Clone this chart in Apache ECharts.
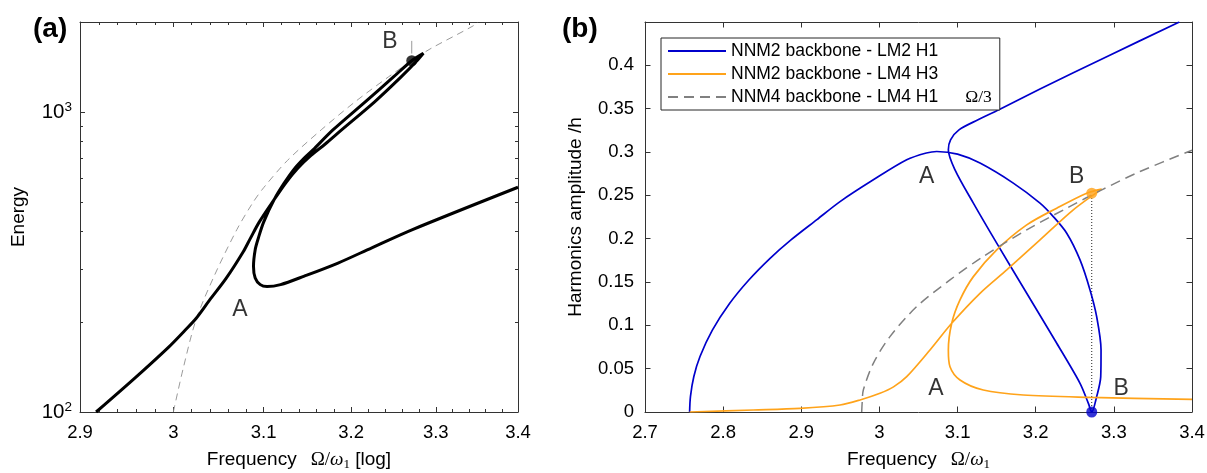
<!DOCTYPE html>
<html>
<head>
<meta charset="utf-8">
<script src="https://cdn.jsdelivr.net/npm/echarts@6/dist/echarts.min.js"></script>
<style>
  html, body { margin: 0; padding: 0; background: #fff; }
  #chart { width: 1207px; height: 473px; }
</style>
</head>
<body>
<div id="chart"></div>
<script>
// ---- panel (a): energy vs frequency, both axes log ----
const aFreqTicks = [2.9, 3, 3.1, 3.2, 3.3, 3.4]
const aFreqMinor = [2.92, 2.94, 2.96, 2.98, 3.02, 3.04, 3.06, 3.08, 3.12, 3.14, 3.16, 3.18,
                    3.22, 3.24, 3.26, 3.28, 3.32, 3.34, 3.36, 3.38]
const aEnergyTicks = [100, 1000]
const aEnergyMinor = [200, 300, 400, 500, 600, 700, 800, 900]

// forced response, one path: rise -> crossing -> lower line up to the fold near B ->
// upper line back down -> crossing -> turning loop -> branch to the right
const aCurveFreq = [2.917, 2.9586, 2.9952, 3.0118, 3.0248, 3.0397, 3.0584, 3.0773, 3.0848, 3.095,
                    3.112, 3.1253, 3.1389, 3.1538, 3.1698, 3.189, 3.2275, 3.259, 3.2775, 3.2851,
                    3.2713, 3.25, 3.2165, 3.179, 3.1561, 3.1458, 3.1343, 3.123, 3.112,
                    3.100, 3.094, 3.0905, 3.0886, 3.0905, 3.0962, 3.1038,
                    3.1191, 3.1461, 3.1849, 3.2242, 3.2722, 3.4]
const aCurveEnergy = [100, 130, 165, 186, 205, 236, 280, 343, 378, 430,
                      512, 583, 652, 718, 782, 873, 1083, 1314, 1485, 1572,
                      1485, 1314, 1083, 873, 749, 702, 645, 579, 512,
                      430, 380, 348, 306, 280, 266, 262,
                      266, 284, 314, 353, 406, 562]
// backbone (dashed)
const aBackboneFreq = [3.0, 3.0108, 3.0248, 3.045, 3.07, 3.088, 3.1, 3.1268, 3.1654, 3.2046,
                       3.2441, 3.2713, 3.293, 3.3449, 3.351]
const aBackboneEnergy = [100, 140, 203, 285, 406, 500, 560, 690, 873, 1083,
                         1314, 1485, 1625, 1940, 2000]
const aPointB = [3.2713, 1485]
const aPointerFreq = [3.2713, 3.2713]
const aPointerEnergy = [1570, 1730]
const aLabels = [[3.0734, 219, 'A'], [3.2456, 1714, 'B']]

// ---- panel (b): harmonic amplitudes ----
const bFreqMin = 2.7, bFreqMax = 3.4, bFreqStep = 0.1
const bAmpMin = 0, bAmpMax = 0.45, bAmpStep = 0.05

const bBlueFreq = [2.7571, 2.7582, 2.7625, 2.7704, 2.7862, 2.8082, 2.8326, 2.8604, 2.8868, 2.92,
                   2.9496, 2.9922, 3.0349, 3.06, 3.0733, 3.1, 3.1287, 3.1713, 3.2055, 3.2225,
                   3.2397, 3.2567, 3.2695, 3.278, 3.2836, 3.2832, 3.278, 3.2717, 3.2674, 3.2567,
                   3.2269, 3.1885, 3.1501, 3.1202, 3.0967, 3.0882, 3.091, 3.1018, 3.1262, 3.1535,
                   3.2055, 3.2908, 3.3838]
const bBlueAmp = [0, 0.018, 0.041, 0.064, 0.0944, 0.1251, 0.152, 0.1776, 0.1986, 0.222,
                  0.2428, 0.2679, 0.291, 0.2988, 0.3006, 0.2975, 0.2872, 0.2641, 0.241, 0.2255,
                  0.2063, 0.1755, 0.1409, 0.11, 0.0716, 0.0408, 0.0177, 0, 0.01, 0.0331,
                  0.0793, 0.137, 0.1948, 0.241, 0.2794, 0.3025, 0.3141, 0.3256, 0.3372, 0.349,
                  0.3726, 0.41, 0.45]
const bOrangeFreq = [2.7571, 2.8387, 2.8985, 2.9496, 2.9752, 3.0007, 3.018, 3.0349, 3.0647, 3.0925,
                     3.1287, 3.1629, 3.2055, 3.2481, 3.2844, 3.2652, 3.2269, 3.1885, 3.1501, 3.1202,
                     3.1031, 3.0925, 3.0882, 3.0903, 3.1031, 3.1329, 3.1841, 3.2695, 3.4]
const bOrangeAmp = [0, 0.0023, 0.0042, 0.0081, 0.0139, 0.0216, 0.029, 0.0408, 0.0716, 0.1024,
                    0.137, 0.164, 0.1986, 0.2333, 0.2572, 0.2525, 0.2352, 0.2159, 0.1871, 0.1562,
                    0.1293, 0.1024, 0.0716, 0.0523, 0.037, 0.0254, 0.0196, 0.0169, 0.0145]
const bGreyFreq = [2.9773, 2.978, 2.9794, 2.9922, 3.0135, 3.0477, 3.0903, 3.1329, 3.1885, 3.2397,
                   3.2865, 3.3335, 3.4]
const bGreyAmp = [0, 0.012, 0.0254, 0.0562, 0.087, 0.1216, 0.1524, 0.1794, 0.2102, 0.2352,
                  0.2572, 0.2775, 0.302]
const bPointB = [[3.2717, 0.2525]]
const bPointBase = [[3.2717, 0]]
const bDottedFreq = [3.2717, 3.2717]
const bDottedAmp = [0, 0.2525]
const bLabels = [[3.0605, 0.2717, 'A'], [3.2525, 0.2717, 'B'], [3.0724, 0.0274, 'A'], [3.3092, 0.0274, 'B']]

const nameBlue = 'NNM2 backbone - LM2 H1'
const nameOrange = 'NNM2 backbone - LM4 H3'
const nameGrey = 'NNM4 backbone - LM4 H1'

const FONT = "'Liberation Sans', Arial, Helvetica, sans-serif"
const SERIF = "'Liberation Serif', 'Times New Roman', serif"
const AXIS = '#333'
const lnF = v => Math.log(v)
const lgE = v => Math.log10(v)
const zip = (xs, ys, fx, fy) => xs.map((x, i) => [fx ? fx(x) : x, fy ? fy(ys[i]) : ys[i]])

const freqName = extra => '{t|Frequency}{sp|}{g|Ω/}{w|ω}{sub|1}' + extra
const nameRich = {
  t: { fontFamily: FONT, fontSize: 19, color: '#000', lineHeight: 22 },
  sp: { width: 14 },
  g: { fontFamily: SERIF, fontSize: 19, color: '#000', lineHeight: 22 },
  w: { fontFamily: SERIF, fontStyle: 'italic', fontSize: 19, color: '#000', lineHeight: 22 },
  sub: { fontFamily: SERIF, fontSize: 13, color: '#000', lineHeight: 4, verticalAlign: 'bottom' }
}
const tickLabel = { fontSize: 18.5, color: '#000', fontFamily: FONT }

function aXAxis(pos, ticks, len, withLine, withLabels) {
  return {
    gridIndex: 0, type: 'value', position: pos, min: lnF(2.9), max: lnF(3.4),
    axisLine: { show: withLine, onZero: false, lineStyle: { color: AXIS } },
    axisTick: { inside: true, length: len, customValues: ticks.map(lnF), lineStyle: { color: AXIS } },
    axisLabel: withLabels
      ? Object.assign({ customValues: aFreqTicks.map(lnF), margin: 11,
          formatter: v => String(Math.round(Math.exp(v) * 10) / 10) }, tickLabel)
      : { show: false },
    splitLine: { show: false }
  }
}
function aYAxis(pos, ticks, len, withLine, withLabels) {
  return {
    gridIndex: 0, type: 'value', position: pos, min: lgE(100), max: lgE(2000),
    axisLine: { show: withLine, onZero: false, lineStyle: { color: AXIS } },
    axisTick: { inside: true, length: len, customValues: ticks.map(lgE), lineStyle: { color: AXIS } },
    axisLabel: withLabels
      ? { customValues: aEnergyTicks.map(lgE), margin: 8,
          formatter: v => '{b|10}{s|' + Math.round(v) + '}',
          rich: {
            b: { fontSize: 20.5, fontFamily: FONT, color: '#000', lineHeight: 24 },
            s: { fontSize: 13.5, fontFamily: FONT, color: '#000', lineHeight: 7, verticalAlign: 'top' }
          } }
      : { show: false },
    splitLine: { show: false }
  }
}

const xAxes = [
  Object.assign(aXAxis('bottom', aFreqTicks, 5, true, true), {
    name: freqName('{t| [log]}'), nameLocation: 'middle', nameGap: 37,
    nameTextStyle: { rich: nameRich }
  }),
  aXAxis('bottom', aFreqMinor, 3, false, false),
  aXAxis('top', aFreqTicks, 5, true, false),
  aXAxis('top', aFreqMinor, 3, false, false),
  {
    gridIndex: 1, type: 'value', position: 'bottom', min: bFreqMin, max: bFreqMax, interval: bFreqStep,
    axisLine: { show: true, onZero: false, lineStyle: { color: AXIS } },
    axisTick: { inside: true, length: 5.5, lineStyle: { color: AXIS } },
    axisLabel: Object.assign({ margin: 11, formatter: v => String(+v.toFixed(1)) }, tickLabel),
    splitLine: { show: false },
    name: freqName(''), nameLocation: 'middle', nameGap: 37,
    nameTextStyle: { rich: nameRich }
  },
  {
    gridIndex: 1, type: 'value', position: 'top', min: bFreqMin, max: bFreqMax, interval: bFreqStep,
    axisLine: { show: true, onZero: false, lineStyle: { color: AXIS } },
    axisTick: { inside: true, length: 5.5, lineStyle: { color: AXIS } },
    axisLabel: { show: false }, splitLine: { show: false }
  }
]
const yAxes = [
  Object.assign(aYAxis('left', aEnergyTicks, 5, true, true), {
    name: 'Energy', nameLocation: 'middle', nameGap: 52,
    nameTextStyle: { fontSize: 19, fontFamily: FONT, color: '#000' }
  }),
  aYAxis('left', aEnergyMinor, 3, false, false),
  aYAxis('right', aEnergyTicks, 5, true, false),
  aYAxis('right', aEnergyMinor, 3, false, false),
  {
    gridIndex: 1, type: 'value', position: 'left', min: bAmpMin, max: bAmpMax, interval: bAmpStep,
    axisLine: { show: true, onZero: false, lineStyle: { color: AXIS } },
    axisTick: { inside: true, length: 5.5, lineStyle: { color: AXIS } },
    axisLabel: Object.assign({ margin: 11, formatter: v => (v > 0.42 ? '' : String(+v.toFixed(2))) }, tickLabel),
    splitLine: { show: false },
    name: 'Harmonics amplitude /h', nameLocation: 'middle', nameGap: 60,
    nameTextStyle: { fontSize: 19, fontFamily: FONT, color: '#000' }
  },
  {
    gridIndex: 1, type: 'value', position: 'right', min: bAmpMin, max: bAmpMax, interval: bAmpStep,
    axisLine: { show: true, onZero: false, lineStyle: { color: AXIS } },
    axisTick: { inside: true, length: 5.5, lineStyle: { color: AXIS } },
    axisLabel: { show: false }, splitLine: { show: false }
  }
]

function labelSeries(xi, yi, items, fx, fy) {
  return {
    type: 'scatter', xAxisIndex: xi, yAxisIndex: yi, silent: true, symbolSize: 1,
    itemStyle: { color: 'rgba(0,0,0,0)' },
    data: items.map(d => [fx ? fx(d[0]) : d[0], fy ? fy(d[1]) : d[1], d[2]]),
    label: { show: true, position: 'inside', formatter: p => p.value[2],
             fontSize: 23, fontFamily: FONT, color: '#000' },
    z: 10
  }
}

const option = {
  animation: false,
  backgroundColor: '#fff',
  title: [
    { text: '(a)', left: 28, top: 10, textStyle: { fontSize: 28, fontWeight: 'bold', fontFamily: FONT, color: '#000' } },
    { text: '(b)', left: 557, top: 10, textStyle: { fontSize: 28, fontWeight: 'bold', fontFamily: FONT, color: '#000' } }
  ],
  grid: [
    { left: 80, top: 22, width: 438, height: 390, outerBoundsMode: 'none' },
    { left: 645, top: 22, width: 547, height: 390, outerBoundsMode: 'none' }
  ],
  xAxis: xAxes,
  yAxis: yAxes,
  legend: {
    data: [nameBlue, nameOrange, nameGrey],
    orient: 'vertical', left: 661, top: 38,
    itemWidth: 58, itemHeight: 14, itemGap: 5,
    padding: [4, 8, 4, 6],
    borderColor: '#262626', borderWidth: 1, backgroundColor: '#fff',
    selectedMode: false,
    itemStyle: { opacity: 0 },
    textStyle: {
      fontSize: 17.5, fontFamily: FONT, color: '#000', lineHeight: 18,
      rich: { sp: { width: 27 }, om: { fontFamily: SERIF, fontSize: 17.5, color: '#000' } }
    },
    formatter: n => (n === nameGrey ? n + '{sp|}{om|Ω/3}' : n)
  },
  series: [
    // (a)
    { type: 'line', name: 'backbone (a)', xAxisIndex: 0, yAxisIndex: 0, silent: true, symbol: 'none',
      smooth: 0.3, data: zip(aBackboneFreq, aBackboneEnergy, lnF, lgE),
      lineStyle: { color: '#9a9a9a', width: 1, type: [7, 5] }, z: 2 },
    { type: 'line', name: 'response (a)', xAxisIndex: 0, yAxisIndex: 0, silent: true, symbol: 'none',
      smooth: 0.3, data: zip(aCurveFreq, aCurveEnergy, lnF, lgE),
      lineStyle: { color: '#000', width: 3 }, z: 3 },
    { type: 'line', name: 'pointer (a)', xAxisIndex: 0, yAxisIndex: 0, silent: true, symbol: 'none',
      data: zip(aPointerFreq, aPointerEnergy, lnF, lgE),
      lineStyle: { color: '#9a9a9a', width: 1 }, z: 3 },
    { type: 'scatter', xAxisIndex: 0, yAxisIndex: 0, silent: true, symbolSize: 11,
      data: [[lnF(aPointB[0]), lgE(aPointB[1])]], itemStyle: { color: '#000' }, z: 4 },
    labelSeries(0, 0, aLabels, lnF, lgE),
    // (b)
    { type: 'line', name: nameBlue, xAxisIndex: 4, yAxisIndex: 4, silent: true, symbol: 'none',
      smooth: 0.3, data: zip(bBlueFreq, bBlueAmp),
      itemStyle: { color: '#0000cc' }, lineStyle: { color: '#0000cc', width: 1.7 }, z: 3 },
    { type: 'line', name: nameOrange, xAxisIndex: 4, yAxisIndex: 4, silent: true, symbol: 'none',
      smooth: 0.3, data: zip(bOrangeFreq, bOrangeAmp),
      itemStyle: { color: '#ffa31a' }, lineStyle: { color: '#ffa31a', width: 1.7 }, z: 3 },
    { type: 'line', name: nameGrey, xAxisIndex: 4, yAxisIndex: 4, silent: true, symbol: 'none',
      smooth: 0.3, data: zip(bGreyFreq, bGreyAmp),
      itemStyle: { color: '#808080' }, lineStyle: { color: '#808080', width: 1.5, type: [10, 6] }, z: 3 },
    { type: 'line', name: 'dotted (b)', xAxisIndex: 4, yAxisIndex: 4, silent: true, symbol: 'none',
      data: zip(bDottedFreq, bDottedAmp),
      lineStyle: { color: '#222', width: 1, type: [1, 2] }, z: 2 },
    { type: 'scatter', xAxisIndex: 4, yAxisIndex: 4, silent: true, symbolSize: 11,
      data: bPointB, itemStyle: { color: '#ffa31a' }, z: 4 },
    { type: 'scatter', xAxisIndex: 4, yAxisIndex: 4, silent: true, symbolSize: 11,
      data: bPointBase, itemStyle: { color: '#0000cc' }, z: 4, clip: false },
    labelSeries(4, 4, bLabels)
  ]
}

const chart = echarts.init(document.getElementById('chart'))
chart.setOption(option)
</script>
</body>
</html>
